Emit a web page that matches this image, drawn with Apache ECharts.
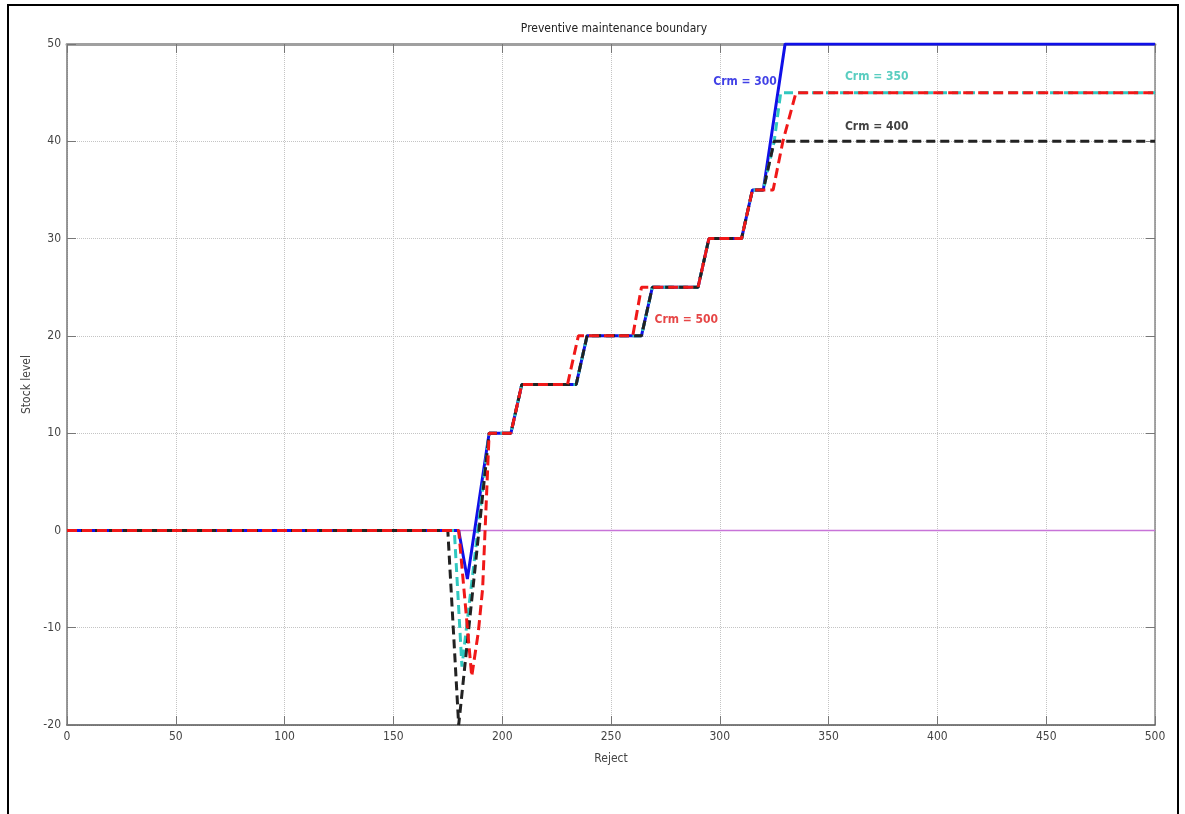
<!DOCTYPE html>
<html>
<head>
<meta charset="utf-8">
<script src="https://cdn.jsdelivr.net/npm/echarts@6/dist/echarts.min.js"></script>
<style>
html, body { margin: 0; padding: 0; background: #fff; }
#main { width: 1185px; height: 814px; }
</style>
</head>
<body>
<div id="main"></div>
<script>
// ticks
var xTicks = [0, 50, 100, 150, 200, 250, 300, 350, 400, 450, 500];
var yTicks = [-20, -10, 0, 10, 20, 30, 40, 50];

// boundaries as [reject, stock level]
var crm300 = [[0, 0], [180, 0], [184, -5], [194, 10], [204, 10], [209, 15], [234, 15], [239, 20],
  [264, 20], [269, 25], [290, 25], [295, 30], [310, 30], [315, 35], [320, 35], [330, 50], [500, 50]];
var crm350 = [[0, 0], [178, 0], [181.5, -14], [194, 10], [204, 10], [209, 15], [234, 15], [239, 20],
  [264, 20], [269, 25], [290, 25], [295, 30], [310, 30], [315, 35], [320, 35], [325, 40], [328, 45], [500, 45]];
var crm400 = [[0, 0], [175, 0], [180, -20], [194, 10], [204, 10], [209, 15], [234, 15], [239, 20],
  [264, 20], [269, 25], [290, 25], [295, 30], [310, 30], [315, 35], [320, 35], [325, 40], [500, 40]];
var crm500 = [[0, 0], [180, 0], [186, -15], [189, -10.5], [191, -6], [194, 10], [204, 10], [209, 15],
  [230, 15], [235, 20], [260, 20], [264, 25], [290, 25], [295, 30], [310, 30], [315, 35], [324.5, 35],
  [329, 40], [335, 45], [500, 45]];
var zeroLine = [[0, 0], [500, 0]];

// label anchors [x, y, text, colour]
var labels = [
  [297, 46.1, 'Crm = 300', '#1010e0'],
  [357.5, 46.6, 'Crm = 350', '#30c0b0'],
  [357.5, 41.5, 'Crm = 400', '#111111'],
  [270, 21.6, 'Crm = 500', '#e01818']
];

var font = "'Liberation Sans Narrow', 'DejaVu Sans Condensed', 'Liberation Sans', sans-serif";
var chart = echarts.init(document.getElementById('main'));

function lineSeries(name, data, color, type, z) {
  return {
    name: name, type: 'line', data: data, symbol: 'none', z: z,
    xAxisIndex: 0, yAxisIndex: 0,
    lineStyle: { color: color, width: 3, type: type },
    animation: false
  };
}

var series = [
  lineSeries('zero', zeroLine, '#c874d8', 'solid', 1),
  lineSeries('Crm = 300', crm300, '#1010e8', 'solid', 2),
  lineSeries('Crm = 350', crm350, '#30c8c0', [9, 5], 3),
  lineSeries('Crm = 400', crm400, '#222222', [9, 5], 4),
  lineSeries('Crm = 500', crm500, '#f01818', [10, 5], 5)
];
series[0].lineStyle.width = 1.5;

series.push({
  type: 'scatter', symbolSize: 0, z: 10, animation: false,
  data: labels.map(function (l) {
    return {
      value: [l[0], l[1]],
      label: { show: true, position: 'right', distance: 0, formatter: l[2], color: l[3],
        fontFamily: font, fontSize: 12, fontWeight: 'bold' }
    };
  })
});

function axisLine(color, width) {
  return { show: true, onZero: false, lineStyle: { color: color, width: width } };
}
var tick = { show: true, inside: true, length: 9, lineStyle: { color: '#777' } };
var grid = { show: true, lineStyle: { color: '#c4c4c4', type: 'dotted', width: 1 } };

chart.setOption({
  animation: false,
  backgroundColor: '#fff',
  title: {
    text: 'Preventive maintenance boundary', left: 609, top: 18, textAlign: 'center',
    textStyle: { fontFamily: font, fontSize: 12, fontWeight: 'normal', color: '#222' }
  },
  grid: { left: 67, right: 30, top: 44, bottom: 89 },
  xAxis: [{
    type: 'value', min: 0, max: 500, interval: 50,
    name: 'Reject', nameLocation: 'middle', nameGap: 28,
    nameTextStyle: { fontFamily: font, fontSize: 12, color: '#444' },
    axisLine: axisLine('#555', 1.5),
    axisTick: tick,
    axisLabel: { fontFamily: font, fontSize: 12, color: '#444', margin: 6,
      formatter: function (v) { return xTicks.indexOf(v) >= 0 ? v : ''; } },
    splitLine: grid
  }, {
    type: 'value', min: 0, max: 500, interval: 50, position: 'top',
    axisLine: axisLine('#a0a0a0', 3),
    axisTick: tick,
    axisLabel: { show: false }, splitLine: { show: false }
  }],
  yAxis: [{
    type: 'value', min: -20, max: 50, interval: 10,
    name: 'Stock level', nameLocation: 'middle', nameGap: 32, nameRotate: 90,
    nameTextStyle: { fontFamily: font, fontSize: 12, color: '#444' },
    axisLine: axisLine('#777', 1.5),
    axisTick: tick,
    axisLabel: { fontFamily: font, fontSize: 12, color: '#444', margin: 6,
      formatter: function (v) { return yTicks.indexOf(v) >= 0 ? v : ''; } },
    splitLine: grid
  }, {
    type: 'value', min: -20, max: 50, interval: 10, position: 'right',
    axisLine: axisLine('#888', 1.5),
    axisTick: tick,
    axisLabel: { show: false }, splitLine: { show: false }
  }],
  graphic: [{
    type: 'rect', shape: { x: 8, y: 5, width: 1170, height: 830 },
    style: { fill: 'none', stroke: '#000', lineWidth: 2 }, silent: true
  }],
  series: series
});
window.addEventListener('resize', function () { chart.resize(); });
</script>
</body>
</html>
